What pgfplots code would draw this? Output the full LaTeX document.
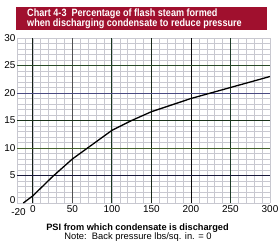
\documentclass[border=0pt]{standalone}
\usepackage{pgfplots}
\pgfplotsset{compat=1.18}
\usepackage{fontspec}
\setmainfont{Liberation Sans}
\newfontfamily\titlefont[FakeStretch=0.86]{Liberation Sans}
\definecolor{titlered}{RGB}{160,16,46}
\definecolor{minorgrid}{RGB}{200,200,208}
\definecolor{gA}{RGB}{20,30,20}
\definecolor{gB}{RGB}{80,80,80}
\definecolor{gC}{RGB}{25,55,30}
\definecolor{gD}{RGB}{25,40,25}
\definecolor{gE}{RGB}{10,10,10}
\definecolor{gF}{RGB}{30,60,40}
\definecolor{h5}{RGB}{25,25,60}
\definecolor{h10}{RGB}{70,100,45}
\definecolor{h15}{RGB}{25,50,25}
\definecolor{h20}{RGB}{75,75,130}
\definecolor{h25}{RGB}{40,75,40}
\begin{document}
\begin{tikzpicture}
\path[use as bounding box, fill=white] (-17bp,-43bp) rectangle (263bp,203bp);
\begin{axis}[
  at={(0,0)}, anchor=south west,
  scale only axis, width=253bp, height=165bp,
  xmin=-20, xmax=300, ymin=0, ymax=30,
  axis line style={draw=none},
  xtick={0,50,100,150,200,250,300},
  ytick={5,10,15,20,25,30},
  extra x ticks={-20}, extra x tick style={xticklabel style={yshift=-3pt, xshift=1.5pt}},
  extra y ticks={0}, extra y tick style={yticklabel style={yshift=3pt}},
  minor xtick={-20,-10,...,300},
  minor ytick={0,1,...,30},
  minor grid style={minorgrid, line width=0.5pt},
  xminorgrids, yminorgrids,
  major tick length=0pt, minor tick length=0pt,
  tick label style={font=\fontsize{10}{10}\selectfont},
  /pgf/number format/assume math mode=true,
  xticklabel style={yshift=1pt},
  yticklabel style={xshift=2pt},
  clip=false,
]
\draw[gA, line width=0.8pt] (axis cs:0,0) -- (axis cs:0,30);
\draw[gB, line width=0.8pt] (axis cs:50,0) -- (axis cs:50,30);
\draw[gC, line width=0.8pt] (axis cs:100,0) -- (axis cs:100,30);
\draw[gD, line width=0.8pt] (axis cs:150,0) -- (axis cs:150,30);
\draw[gE, line width=0.8pt] (axis cs:200,0) -- (axis cs:200,30);
\draw[gF, line width=0.8pt] (axis cs:250,0) -- (axis cs:250,30);
\draw[h5, line width=0.8pt] (axis cs:-20,5) -- (axis cs:300,5);
\draw[h10, line width=0.8pt] (axis cs:-20,10) -- (axis cs:300,10);
\draw[h15, line width=0.8pt] (axis cs:-20,15) -- (axis cs:300,15);
\draw[h20, line width=0.8pt] (axis cs:-20,20) -- (axis cs:300,20);
\draw[h25, line width=0.8pt] (axis cs:-20,25) -- (axis cs:300,25);
\addplot[black, line width=1.3pt] coordinates {
(-12,0) (0,1.3) (25,4.8) (50,8.0) (75,10.6) (100,13.2) (125,15.0) (150,16.6)
(175,17.8) (200,19.0) (225,20.0) (250,21.0) (275,22.0) (300,23.0)};
\end{axis}
\fill[titlered] (-1bp,173bp) rectangle (250bp,196bp);
\node[anchor=west, text=white, font=\titlefont\bfseries\fontsize{10.6}{10}\selectfont, align=left, inner sep=0pt] at (10bp,184.5bp) {Chart 4-3\ \ Percentage of flash steam formed\\when discharging condensate to reduce pressure};
\node[font=\bfseries\fontsize{9.25}{9}\selectfont, inner sep=0pt] at (120.5bp,-25.5bp) {PSI from which condensate is discharged};
\node[font=\fontsize{9.4}{9}\selectfont, inner sep=0pt] at (121bp,-34.5bp) {Note:\ \ Back pressure lbs/sq. in. = 0};
\end{tikzpicture}
\end{document}
